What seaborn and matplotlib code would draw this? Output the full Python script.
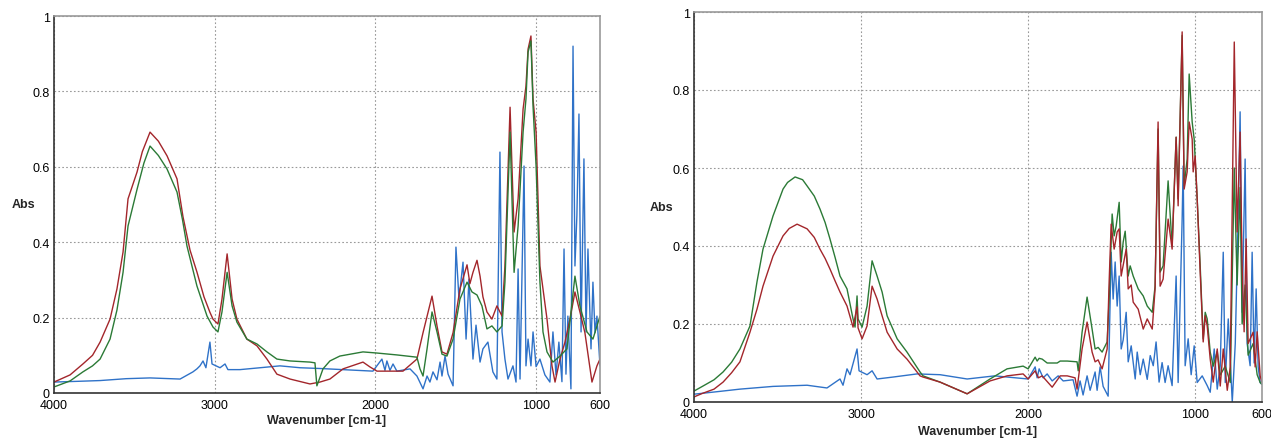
import pandas as pd
import numpy as np
import matplotlib
matplotlib.use("Agg")
import matplotlib.pyplot as plt
from matplotlib.ticker import MultipleLocator
import seaborn as sns

# (wavenumber, absorbance), left panel
left_red = [(4000, 0.029), (3900, 0.048), (3820, 0.077), (3760, 0.100), (3713, 0.135), (3651, 0.196),
            (3608, 0.276), (3570, 0.374), (3539, 0.515), (3483, 0.586), (3450, 0.640), (3402, 0.692),
            (3350, 0.668), (3296, 0.629), (3234, 0.568), (3197, 0.468), (3153, 0.379), (3110, 0.321),
            (3066, 0.255), (3029, 0.214), (3010, 0.196), (2979, 0.183), (2954, 0.249), (2922, 0.369),
            (2891, 0.249), (2861, 0.196), (2799, 0.143), (2736, 0.125), (2674, 0.090), (2612, 0.050),
            (2530, 0.037), (2406, 0.024), (2344, 0.029), (2282, 0.037), (2200, 0.064), (2076, 0.082),
            (2032, 0.069), (1989, 0.058), (1827, 0.058), (1740, 0.090), (1702, 0.160), (1646, 0.257),
            (1615, 0.178), (1584, 0.109), (1553, 0.103), (1515, 0.160), (1472, 0.276), (1428, 0.340),
            (1410, 0.290), (1391, 0.320), (1366, 0.352), (1347, 0.310), (1329, 0.255), (1304, 0.215),
            (1273, 0.196), (1242, 0.231), (1210, 0.204), (1192, 0.337), (1160, 0.758), (1135, 0.427),
            (1110, 0.515), (1079, 0.753), (1061, 0.814), (1048, 0.912), (1030, 0.947), (1017, 0.780),
            (998, 0.692), (974, 0.337), (955, 0.276), (930, 0.196), (899, 0.072), (880, 0.029),
            (849, 0.090), (818, 0.135), (787, 0.196), (756, 0.268), (725, 0.215), (694, 0.160),
            (650, 0.029), (619, 0.072), (600, 0.090)]

left_green = [(4000, 0.016), (3900, 0.032), (3820, 0.056), (3760, 0.072), (3713, 0.090), (3651, 0.143),
              (3608, 0.220), (3570, 0.320), (3539, 0.443), (3483, 0.540), (3440, 0.610), (3402, 0.655),
              (3350, 0.630), (3296, 0.594), (3234, 0.533), (3200, 0.460), (3172, 0.390), (3110, 0.284),
              (3047, 0.204), (3010, 0.175), (2979, 0.162), (2954, 0.215), (2922, 0.320), (2891, 0.231),
              (2861, 0.188), (2799, 0.143), (2736, 0.130), (2674, 0.109), (2612, 0.090), (2530, 0.085),
              (2406, 0.082), (2375, 0.080), (2363, 0.019), (2345, 0.040), (2325, 0.064), (2282, 0.085),
              (2220, 0.098), (2076, 0.109), (1989, 0.106), (1865, 0.101), (1740, 0.095), (1721, 0.064),
              (1702, 0.045), (1677, 0.117), (1646, 0.215), (1615, 0.162), (1584, 0.103), (1553, 0.098),
              (1515, 0.143), (1472, 0.249), (1428, 0.294), (1397, 0.268), (1366, 0.260), (1335, 0.231),
              (1304, 0.170), (1273, 0.178), (1242, 0.162), (1210, 0.178), (1192, 0.294), (1160, 0.692),
              (1135, 0.320), (1110, 0.443), (1079, 0.692), (1061, 0.780), (1048, 0.904), (1030, 0.934),
              (1017, 0.761), (998, 0.602), (974, 0.294), (955, 0.162), (930, 0.109), (893, 0.082),
              (849, 0.098), (806, 0.117), (756, 0.310), (725, 0.231), (681, 0.162), (644, 0.143),
              (600, 0.204)]

left_blue = [(4000, 0.029), (3850, 0.031), (3713, 0.033), (3550, 0.038), (3402, 0.040), (3215, 0.037),
             (3135, 0.056), (3110, 0.064), (3091, 0.072), (3072, 0.085), (3054, 0.067), (3029, 0.135),
             (3016, 0.077), (2966, 0.067), (2935, 0.077), (2917, 0.062), (2842, 0.062), (2717, 0.067),
             (2593, 0.072), (2468, 0.067), (2344, 0.065), (2014, 0.058), (1958, 0.090), (1939, 0.060),
             (1927, 0.085), (1908, 0.060), (1889, 0.077), (1865, 0.058), (1783, 0.064), (1740, 0.045),
             (1702, 0.011), (1677, 0.045), (1659, 0.029), (1640, 0.056), (1615, 0.035), (1596, 0.082),
             (1584, 0.045), (1565, 0.098), (1546, 0.050), (1515, 0.019), (1497, 0.387), (1478, 0.249),
             (1453, 0.347), (1434, 0.143), (1416, 0.302), (1391, 0.090), (1372, 0.180), (1347, 0.082),
             (1329, 0.117), (1298, 0.135), (1267, 0.056), (1242, 0.037), (1223, 0.639), (1210, 0.162),
             (1192, 0.090), (1173, 0.037), (1142, 0.072), (1123, 0.029), (1110, 0.329), (1098, 0.037),
             (1073, 0.602), (1061, 0.072), (1048, 0.143), (1030, 0.072), (1017, 0.162), (998, 0.070),
             (974, 0.090), (943, 0.048), (912, 0.029), (893, 0.162), (874, 0.048), (856, 0.135),
             (837, 0.030), (824, 0.382), (812, 0.050), (800, 0.204), (781, 0.011), (768, 0.920),
             (756, 0.337), (744, 0.470), (731, 0.740), (718, 0.162), (700, 0.621), (687, 0.162),
             (675, 0.382), (656, 0.117), (644, 0.294), (631, 0.160), (619, 0.204), (600, 0.072)]

# right panel
right_red = [(4000, 0.013), (3950, 0.022), (3880, 0.033), (3826, 0.051), (3775, 0.075), (3725, 0.103),
             (3665, 0.179), (3623, 0.238), (3587, 0.297), (3527, 0.374), (3467, 0.426), (3430, 0.445),
             (3383, 0.456), (3323, 0.444), (3280, 0.422), (3246, 0.392), (3215, 0.368), (3186, 0.341),
             (3155, 0.310), (3126, 0.282), (3084, 0.246), (3048, 0.192), (3024, 0.244), (3018, 0.190),
             (2994, 0.162), (2964, 0.195), (2934, 0.297), (2904, 0.264), (2874, 0.221), (2844, 0.179),
             (2784, 0.136), (2725, 0.110), (2647, 0.067), (2629, 0.064), (2527, 0.051), (2365, 0.021),
             (2228, 0.054), (2126, 0.067), (2030, 0.072), (2000, 0.059), (1958, 0.080), (1938, 0.062),
             (1916, 0.067), (1856, 0.038), (1808, 0.067), (1766, 0.067), (1719, 0.062), (1707, 0.033),
             (1677, 0.136), (1647, 0.205), (1617, 0.128), (1599, 0.103), (1581, 0.108), (1557, 0.085),
             (1527, 0.136), (1515, 0.308), (1503, 0.456), (1485, 0.392), (1467, 0.436), (1455, 0.444),
             (1443, 0.323), (1413, 0.392), (1401, 0.290), (1383, 0.300), (1371, 0.256), (1341, 0.238),
             (1311, 0.187), (1287, 0.213), (1257, 0.187), (1240, 0.290), (1222, 0.718), (1210, 0.297),
             (1192, 0.315), (1162, 0.469), (1138, 0.392), (1114, 0.679), (1102, 0.503), (1078, 0.949),
             (1066, 0.546), (1048, 0.590), (1036, 0.718), (1018, 0.674), (1012, 0.590), (1000, 0.631),
             (988, 0.521), (970, 0.333), (952, 0.154), (940, 0.221), (928, 0.195), (910, 0.110),
             (892, 0.051), (868, 0.136), (850, 0.041), (832, 0.136), (808, 0.030), (790, 0.090),
             (766, 0.923), (749, 0.436), (731, 0.692), (719, 0.349), (707, 0.180), (695, 0.418),
             (683, 0.150), (653, 0.179), (641, 0.090), (629, 0.180), (611, 0.067), (600, 0.050)]

right_green = [(4000, 0.028), (3950, 0.040), (3880, 0.057), (3826, 0.077), (3775, 0.102), (3725, 0.136),
               (3665, 0.195), (3623, 0.308), (3587, 0.392), (3527, 0.477), (3467, 0.546), (3440, 0.563),
               (3395, 0.577), (3350, 0.570), (3323, 0.554), (3280, 0.528), (3246, 0.495), (3215, 0.460),
               (3186, 0.418), (3155, 0.370), (3126, 0.323), (3084, 0.290), (3048, 0.213), (3036, 0.192),
               (3024, 0.272), (3018, 0.213), (2994, 0.192), (2964, 0.246), (2934, 0.362), (2904, 0.323),
               (2874, 0.282), (2844, 0.221), (2784, 0.162), (2725, 0.128), (2647, 0.077), (2629, 0.067),
               (2527, 0.051), (2365, 0.021), (2228, 0.059), (2126, 0.085), (2030, 0.092), (2000, 0.085),
               (1958, 0.115), (1946, 0.105), (1934, 0.112), (1916, 0.110), (1886, 0.100), (1826, 0.100),
               (1808, 0.105), (1766, 0.105), (1707, 0.103), (1700, 0.080), (1677, 0.179), (1647, 0.269),
               (1617, 0.187), (1599, 0.136), (1581, 0.140), (1557, 0.128), (1527, 0.154), (1515, 0.264),
               (1497, 0.482), (1485, 0.426), (1473, 0.451), (1455, 0.512), (1443, 0.359), (1431, 0.410),
               (1419, 0.438), (1401, 0.323), (1389, 0.349), (1371, 0.323), (1341, 0.290), (1311, 0.272),
               (1287, 0.246), (1257, 0.230), (1240, 0.297), (1222, 0.700), (1210, 0.333), (1192, 0.349),
               (1162, 0.567), (1138, 0.400), (1114, 0.679), (1102, 0.521), (1078, 0.940), (1066, 0.554),
               (1048, 0.623), (1036, 0.841), (1018, 0.718), (1006, 0.674), (988, 0.521), (970, 0.349),
               (952, 0.162), (940, 0.230), (928, 0.213), (910, 0.128), (892, 0.092), (868, 0.130),
               (850, 0.069), (820, 0.092), (790, 0.050), (766, 0.600), (749, 0.300), (731, 0.550),
               (719, 0.200), (701, 0.300), (683, 0.120), (653, 0.150), (629, 0.070), (611, 0.050),
               (600, 0.045)]

right_blue = [(4000, 0.020), (3850, 0.027), (3725, 0.033), (3527, 0.040), (3323, 0.043), (3204, 0.036),
              (3126, 0.059), (3108, 0.043), (3084, 0.085), (3066, 0.070), (3024, 0.136), (3012, 0.080),
              (2964, 0.070), (2934, 0.080), (2904, 0.059), (2808, 0.064), (2665, 0.072), (2527, 0.070),
              (2365, 0.059), (2200, 0.067), (2000, 0.059), (1958, 0.090), (1946, 0.062), (1934, 0.085),
              (1910, 0.062), (1886, 0.072), (1856, 0.054), (1820, 0.067), (1790, 0.054), (1731, 0.057),
              (1707, 0.015), (1689, 0.054), (1671, 0.018), (1647, 0.067), (1629, 0.030), (1599, 0.077),
              (1587, 0.030), (1569, 0.090), (1551, 0.040), (1521, 0.015), (1503, 0.384), (1491, 0.264),
              (1479, 0.359), (1467, 0.246), (1455, 0.323), (1443, 0.136), (1431, 0.159), (1413, 0.230),
              (1401, 0.103), (1383, 0.144), (1359, 0.059), (1347, 0.128), (1329, 0.070), (1311, 0.110),
              (1287, 0.058), (1269, 0.119), (1251, 0.093), (1234, 0.154), (1216, 0.051), (1198, 0.101),
              (1180, 0.050), (1162, 0.093), (1138, 0.042), (1114, 0.323), (1102, 0.050), (1078, 0.469),
              (1072, 0.605), (1060, 0.093), (1042, 0.162), (1024, 0.070), (1006, 0.144), (988, 0.050),
              (958, 0.067), (928, 0.042), (910, 0.025), (886, 0.136), (868, 0.033), (850, 0.093),
              (832, 0.384), (820, 0.050), (802, 0.213), (778, 0.000), (760, 0.150), (743, 0.469),
              (731, 0.744), (719, 0.230), (701, 0.623), (689, 0.150), (671, 0.093), (659, 0.384),
              (647, 0.100), (635, 0.290), (623, 0.090), (611, 0.050), (600, 0.045)]

x_ticks = [4000, 3000, 2000, 1000, 600]
y_ticks = [0, 0.2, 0.4, 0.6, 0.8, 1]
y_tick_labels = ["0", "0.2", "0.4", "0.6", "0.8", "1"]

colors = {"red": "#a3262b", "green": "#2b7a36", "blue": "#2f72c8"}


def to_frame(traces):
    rows = []
    for name, pts in traces.items():
        for wn, a in pts:
            rows.append({"wn": wn, "abs": a, "trace": name})
    return pd.DataFrame(rows)


sns.set_style("white")
plt.rcParams["font.family"] = ["Liberation Sans", "DejaVu Sans"]

fig = plt.figure(figsize=(12.71, 4.39), dpi=100)
ax1 = fig.add_axes([54 / 1271, 1 - 394 / 439, (600 - 54) / 1271, (394 - 17) / 439])
ax2 = fig.add_axes([694 / 1271, 1 - 403 / 439, (1262 - 694) / 1271, (403 - 13) / 439])

panels = [
    (ax1, {"red": left_red, "green": left_green, "blue": left_blue}, ["blue", "red", "green"], 27 / 377),
    (ax2, {"red": right_red, "green": right_green, "blue": right_blue}, ["blue", "green", "red"], 29 / 390),
]

for ax, traces, order, xlab_off in panels:
    df = to_frame(traces)
    sns.lineplot(data=df, x="wn", y="abs", hue="trace", hue_order=order, palette=colors,
                 estimator=None, sort=False, legend=False, linewidth=1.0, ax=ax)
    ax.set_xlim(4000, 600)
    ax.set_ylim(0, 1)
    ax.set_xticks(x_ticks)
    ax.set_xticklabels([str(t) for t in x_ticks])
    ax.set_yticks(y_ticks)
    ax.set_yticklabels(y_tick_labels)
    ax.xaxis.set_minor_locator(MultipleLocator(500))
    ax.yaxis.set_minor_locator(MultipleLocator(0.1))
    ax.tick_params(axis="both", which="major", direction="in", length=5, width=1,
                   labelsize=9, pad=3, colors="#333333", labelcolor="black")
    ax.tick_params(axis="both", which="minor", direction="in", length=4, width=0.8, colors="#555555")
    ax.tick_params(axis="x", which="major", pad=4)
    ax.grid(True, which="major", linestyle=(0, (1.5, 2)), color="#999999", linewidth=0.8)
    for side in ["left", "bottom"]:
        ax.spines[side].set_color("#333333")
        ax.spines[side].set_linewidth(1.2)
    for side in ["top", "right"]:
        ax.spines[side].set_color("#999999")
        ax.spines[side].set_linewidth(1.2)
    ax.set_xlabel("Wavenumber [cm-1]", fontsize=9, fontweight="bold", va="center")
    ax.xaxis.set_label_coords(0.5, -xlab_off)
    ax.set_ylabel("Abs", fontsize=9, fontweight="bold", rotation=0, ha="left", va="center")
    ax.yaxis.set_label_coords(-0.078, 0.5)

fig.savefig("out.png", dpi=100)
